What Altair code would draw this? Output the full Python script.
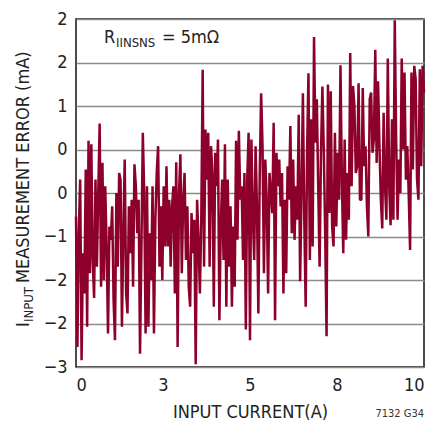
import altair as alt
import pandas as pd

# ---- data ----
# measurement error in mA, sampled every 0.04 A from 0 A to 10 A
err_0_to_2 = [
    -0.75, -2.7, -1.0, -0.2, -2.9, -1.3, -1.9, -0.05, -2.4, 0.38,
    -1.6, 0.33, -1.4, -1.97, -0.2, -1.5, -0.4, 0.64, -1.8, 0.05,
    -1.7, -0.3, -1.2, -2.5, -0.9, -1.1, -0.6, -2.0, -2.6, -0.4,
    -1.5, -0.1, -0.2, -2.4, -1.0, 0.1, -1.9, -2.2, -0.6, -1.3,
    -0.5, -1.8, 0.03, -0.3, -1.0, -0.5, -2.8, -1.2, 0.5, -0.4,
    -2.5, -0.3,
]
err_2_to_4 = [
    -2.4, -1.0, -1.7, -0.3, -2.5, -0.8, -0.1, 0.3, -1.5, -0.6,
    -1.7, -0.3, -1.2, 0.0, -1.2, -0.5, -1.5, -0.6, -0.3, -1.9,
    0.06, -2.7, -0.4, 0.18, -1.6, -0.5, -0.1, -1.4, -0.6, -1.8,
    -2.1, -0.7, -1.3, -0.8, -2.96, -0.5, -1.1, -1.9, -0.8, 1.44,
    -1.5, 0.55, -0.2, 0.5, -1.5, 0.3, -0.1, -2.1, 0.2, -0.3,
]
err_4_to_6 = [
    0.4, -2.3, -0.9, -0.2, -1.4, 0.33, -2.1, -0.2, -1.5, -0.6,
    -2.1, -0.9, -1.8, 0.38, -1.1, 0.53, -0.5, -0.3, -1.4, -0.1,
    -2.44, -0.2, 0.5, -2.6, 0.4, -0.7, -1.4, 0.3, -0.6, -2.2,
    -0.1, 1.09, 0.3, -1.6, 0.1, -0.5, -1.9, -0.1, -0.4, -0.7,
    0.65, -2.3, 0.2, -0.3, 0.1, -0.6, -0.1, -1.9, -0.5, -1.6,
    0.0, -0.5,
]
err_6_to_8 = [
    0.6, -1.0, 0.1, -1.1, -0.3, -0.8, 0.77, -1.72, -0.4, 1.09,
    -0.8, -2.1, 0.2, 1.39, -1.4, 0.7, -1.2, 1.93, 0.35, 1.0,
    -0.3, -1.5, 0.2, 1.19, 0.25, -1.0, -2.54, 1.22, -0.7, 1.12,
    -0.9, -1.2, 0.5, -0.9, 0.2, -0.5, 1.51, -0.2, -1.3, 0.4,
    -1.1, -0.1, -0.8, 1.69, -0.3, 1.2, 0.9, -0.1, 0.0, 1.24,
    -0.5,
]
err_8_to_10 = [
    -0.5, 1.17, 0.0, 0.3, -0.6, -1.05, 1.0, 1.1, 0.2, 0.4,
    1.74, 0.05, 1.27, 0.3, -0.5, -0.93, 0.8, -0.3, -0.8, 1.61,
    -0.3, -0.88, 0.7, -0.8, 2.18, 0.4, -0.8, 0.1, -0.4, 1.61,
    0.25, 1.4, -0.2, 0.3, -0.4, -1.25, 1.4, -0.05, 1.5, 1.3,
    -0.2, -0.5, 1.45, 0.0, 1.5, 1.1,
]
error_ma = err_0_to_2 + err_2_to_4 + err_4_to_6 + err_6_to_8 + err_8_to_10
current_step = 0.04
current_a = [round(i * current_step, 2) for i in range(len(error_ma))]

x_ticks = [0, 2.5, 5, 7.5, 10]
y_ticks = [-3, -2.35, -1.7, -1.05, -0.4, 0.25, 0.9, 1.55, 2.2]
x_domain = [0, 10]
y_domain = [-3, 2.2]

df = pd.DataFrame({"current": current_a, "error": error_ma})

FONT = "DejaVu Sans Condensed, Liberation Sans Narrow, sans-serif"
LINE_COLOR = "#8c002b"
TEXT_COLOR = "#222222"
W, H = 348, 348

line = alt.Chart(df).mark_line(
    color=LINE_COLOR, strokeWidth=2.5, strokeJoin="bevel"
).encode(
    x=alt.X(
        "current:Q",
        scale=alt.Scale(domain=x_domain, nice=False),
        axis=alt.Axis(
            values=x_ticks, labelExpr="format(datum.value, 'd')", tickCount=20,
            grid=False, ticks=False, domain=False, labelOverlap=False,
            labelFont=FONT, labelFontSize=18, labelPadding=9, labelColor=TEXT_COLOR,
            title="INPUT CURRENT(A)", titleFont=FONT, titleFontSize=18,
            titleFontWeight="normal", titleColor=TEXT_COLOR,
            titleAlign="center", titleBaseline="alphabetic", titleX=W / 2, titleY=50,
        ),
    ),
    y=alt.Y(
        "error:Q",
        scale=alt.Scale(domain=y_domain, nice=False, zero=False),
        axis=alt.Axis(
            values=y_ticks, labelExpr="format(datum.value, 'd')", tickCount=20,
            grid=True, gridColor="#8c8c8c", gridWidth=1.5,
            ticks=False, domain=False, labelOverlap=False,
            labelFont=FONT, labelFontSize=18, labelPadding=9, labelColor=TEXT_COLOR,
            title=None,
        ),
    ),
)


def label(text, x, y, size, angle=0, align="left", color=TEXT_COLOR):
    return alt.Chart(pd.DataFrame({"t": [text]})).mark_text(
        font=FONT, fontSize=size, angle=angle, align=align,
        baseline="alphabetic", color=color,
    ).encode(x=alt.value(x), y=alt.value(y), text="t:N")


texts = [
    # y-axis title with subscript
    label("I", -47, 308, 18, angle=270),
    label("INPUT", -43, 303, 13, angle=270),
    label("MEASUREMENT ERROR (mA)", -47, 264, 18, angle=270),
    # annotation R_IINSNS = 5mΩ
    label("R", 28, 24, 18),
    label("IINSNS", 40, 28, 13),
    label("= 5mΩ", 86, 24, 18),
    # figure id
    label("7132 G34", W, 398, 11, align="right", color="#333333"),
]

chart = alt.layer(line, *texts).properties(
    width=W,
    height=H,
    padding={"left": 68, "top": 11, "right": 9, "bottom": 53},
    autosize=alt.AutoSizeParams(type="none"),
    background="white",
).configure_view(
    stroke="#111111", strokeWidth=1.5
)

chart.save("out.html", embed_options={"renderer": "svg", "actions": False})
